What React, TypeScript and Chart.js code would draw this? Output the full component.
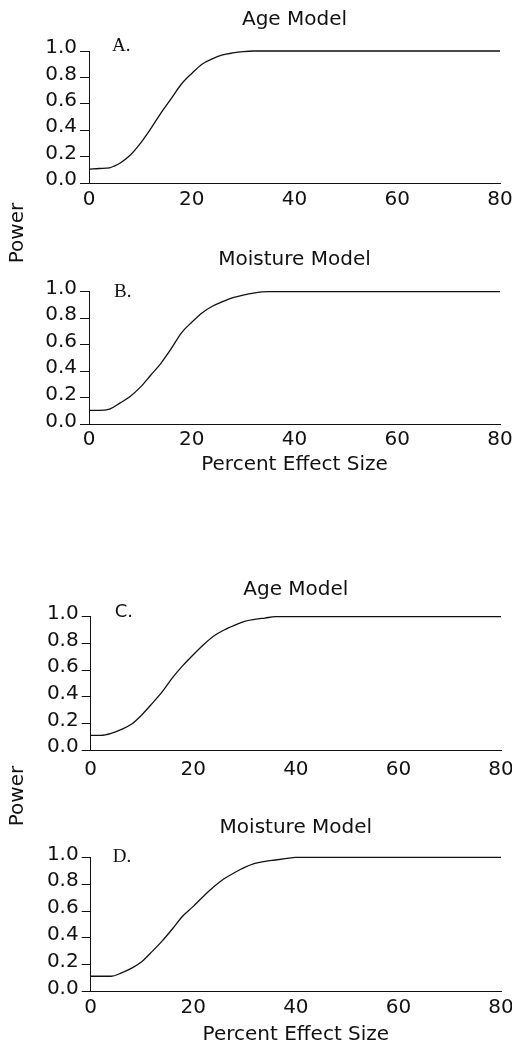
import React, { useEffect, useRef } from "react";
import { Chart, registerables } from "chart.js";

Chart.register(...registerables);

// ---------- data ----------
const xTickValues = [0, 20, 40, 60, 80];
const yTickValues = [0, 0.2, 0.4, 0.6, 0.8, 1.0];

const panelTitles = ["Age Model", "Moisture Model", "Age Model", "Moisture Model"];
const panelLetters = ["A.", "B.", "C.", "D."];
const xAxisTitle = "Percent Effect Size";
const yAxisTitle = "Power";

const effectA = [0, 2, 4, 5, 6, 8, 10, 12, 14, 16, 18, 20, 22, 24, 26, 28, 30, 32, 80];
const powerA = [0.105, 0.11, 0.115, 0.13, 0.15, 0.21, 0.3, 0.41, 0.53, 0.64, 0.75, 0.83, 0.9, 0.94, 0.97, 0.985, 0.995, 1.0, 1.0];

const effectB = [0, 2, 4, 6, 8, 10, 12, 14, 16, 18, 20, 22, 24, 26, 28, 30, 32, 35, 80];
const powerB = [0.105, 0.105, 0.115, 0.16, 0.21, 0.28, 0.37, 0.46, 0.57, 0.69, 0.77, 0.84, 0.89, 0.925, 0.955, 0.975, 0.99, 1.0, 1.0];

const effectC = [0, 2, 4, 6, 8, 10, 12, 14, 16, 18, 20, 22, 24, 26, 28, 30, 32, 34, 36, 80];
const powerC = [0.11, 0.11, 0.125, 0.155, 0.195, 0.265, 0.35, 0.44, 0.545, 0.635, 0.715, 0.79, 0.855, 0.9, 0.935, 0.965, 0.98, 0.99, 1.0, 1.0];

const effectD = [0, 2, 4, 6, 8, 10, 12, 14, 16, 18, 20, 22, 24, 26, 28, 30, 32, 34, 36, 38, 40, 80];
const powerD = [0.115, 0.115, 0.115, 0.14, 0.175, 0.225, 0.3, 0.38, 0.47, 0.565, 0.635, 0.71, 0.78, 0.84, 0.885, 0.925, 0.955, 0.97, 0.98, 0.99, 1.0, 1.0];

const seriesX = [effectA, effectB, effectC, effectD];
const seriesY = [powerA, powerB, powerC, powerD];

// ---------- layout / style ----------
const FONT = "'DejaVu Sans', sans-serif";
const INK = "#111";

const layouts = [
  { top: 0, height: 215, left: 89, right: 500, chartTop: 51, chartBottom: 183, titleCenter: 20, xLabelPad: 5, xTitle: false, xTitlePad: 0, letterDx: 23, letterDy: -5, letterFont: "19px 'Liberation Serif', serif" },
  { top: 225, height: 255, left: 89, right: 500, chartTop: 291.7, chartBottom: 424.3, titleCenter: 260, xLabelPad: 3, xTitle: true, xTitlePad: 5, letterDx: 25, letterDy: 0, letterFont: "19px 'Liberation Serif', serif" },
  { top: 560, height: 230, left: 90.7, right: 501, chartTop: 616.7, chartBottom: 750, titleCenter: 590, xLabelPad: 8, xTitle: false, xTitlePad: 0, letterDx: 24, letterDy: -4, letterFont: "18px 'DejaVu Sans', sans-serif" },
  { top: 795, height: 250, left: 90.7, right: 501, chartTop: 857.3, chartBottom: 991.7, titleCenter: 827.3, xLabelPad: 4, xTitle: true, xTitlePad: 0, letterDx: 22, letterDy: 0, letterFont: "19px 'Liberation Serif', serif" },
];

const powerLabelCenters = [233, 796];

const letterPlugin = {
  id: "panelLetter",
  afterDraw(chart: any, _args: any, opts: any) {
    const { ctx, chartArea } = chart;
    ctx.save();
    ctx.font = opts.font;
    ctx.fillStyle = opts.color;
    ctx.textBaseline = "middle";
    ctx.textAlign = "left";
    ctx.fillText(opts.text, chartArea.left + opts.dx, chartArea.top + opts.dy);
    ctx.restore();
  },
};

function Panel({ index }: { index: number }) {
  const ref = useRef<HTMLCanvasElement | null>(null);
  const L = layouts[index];
  useEffect(() => {
    if (!ref.current) return;
    const titleLH = 24;
    const chartTopRel = L.chartTop - L.top;
    const titlePadTop = L.titleCenter - L.top - titleLH / 2;
    const titlePadBottom = chartTopRel - titleLH - titlePadTop;
    const xAxisHeight = L.height - (L.chartBottom - L.top);
    const data = seriesX[index].map((x, i) => ({ x, y: seriesY[index][i] }));
    const chart = new Chart(ref.current, {
      type: "line",
      data: {
        datasets: [
          {
            data,
            borderColor: INK,
            borderWidth: 1.3,
            pointRadius: 0,
            fill: false,
            clip: false,
            cubicInterpolationMode: "monotone",
          },
        ],
      },
      plugins: [letterPlugin],
      options: {
        animation: false,
        responsive: false,
        devicePixelRatio: 1,
        layout: { padding: { left: 0, right: 512 - L.right, top: 0, bottom: 0 } },
        plugins: {
          legend: { display: false },
          tooltip: { enabled: false },
          title: {
            display: true,
            text: panelTitles[index],
            fullSize: false,
            color: INK,
            font: { family: FONT, size: 20, weight: "normal", lineHeight: 1.2 },
            padding: { top: titlePadTop, bottom: titlePadBottom },
          },
          panelLetter: {
            text: panelLetters[index],
            font: L.letterFont,
            color: INK,
            dx: L.letterDx,
            dy: L.letterDy,
          },
        } as any,
        scales: {
          x: {
            type: "linear",
            min: xTickValues[0],
            max: xTickValues[xTickValues.length - 1],
            afterBuildTicks: (s: any) => {
              s.ticks = xTickValues.map((v) => ({ value: v }));
            },
            afterFit: (s: any) => {
              s.height = xAxisHeight;
              s.paddingLeft = 0;
              s.paddingRight = 0;
            },
            grid: { display: false, drawTicks: false },
            border: { display: true, color: INK, width: 1 },
            ticks: {
              color: INK,
              font: { family: FONT, size: 20, lineHeight: 1.2 },
              padding: L.xLabelPad,
              maxRotation: 0,
              autoSkip: false,
              callback: (v: any) => String(v),
            },
            title: {
              display: L.xTitle,
              text: xAxisTitle,
              color: INK,
              font: { family: FONT, size: 20, lineHeight: 1.0 },
              padding: { top: 0, bottom: L.xTitlePad },
            },
          },
          y: {
            type: "linear",
            min: yTickValues[0],
            max: yTickValues[yTickValues.length - 1],
            afterBuildTicks: (s: any) => {
              s.ticks = yTickValues.map((v) => ({ value: v }));
            },
            afterFit: (s: any) => {
              s.width = L.left;
              s.paddingTop = 0;
              s.paddingBottom = 0;
            },
            grid: { display: true, drawOnChartArea: false, drawTicks: true, tickLength: 9, color: INK, lineWidth: 1 },
            border: { display: true, color: INK, width: 1 },
            ticks: {
              color: INK,
              font: { family: FONT, size: 20, lineHeight: 1.2 },
              padding: 3,
              labelOffset: -3,
              autoSkip: false,
              callback: (v: any) => Number(v).toFixed(1),
            },
          },
        },
      },
    } as any);
    return () => chart.destroy();
  }, [index]);
  return (
    <canvas
      ref={ref}
      width={512}
      height={L.height}
      style={{ position: "absolute", left: 0, top: L.top, width: 512, height: L.height }}
    />
  );
}

export default function App() {
  return (
    <div style={{ position: "absolute", left: 0, top: 0, width: 512, height: 1045, background: "#fff", overflow: "hidden" }}>
      {layouts.map((_, i) => (
        <Panel key={i} index={i} />
      ))}
      {powerLabelCenters.map((cy, i) => (
        <div
          key={"p" + i}
          style={{
            position: "absolute",
            left: 16 - 40,
            top: cy - 12,
            width: 80,
            height: 24,
            lineHeight: "24px",
            textAlign: "center",
            transform: "rotate(-90deg)",
            fontFamily: FONT,
            fontSize: 20,
            color: INK,
          }}
        >
          {yAxisTitle}
        </div>
      ))}
    </div>
  );
}
